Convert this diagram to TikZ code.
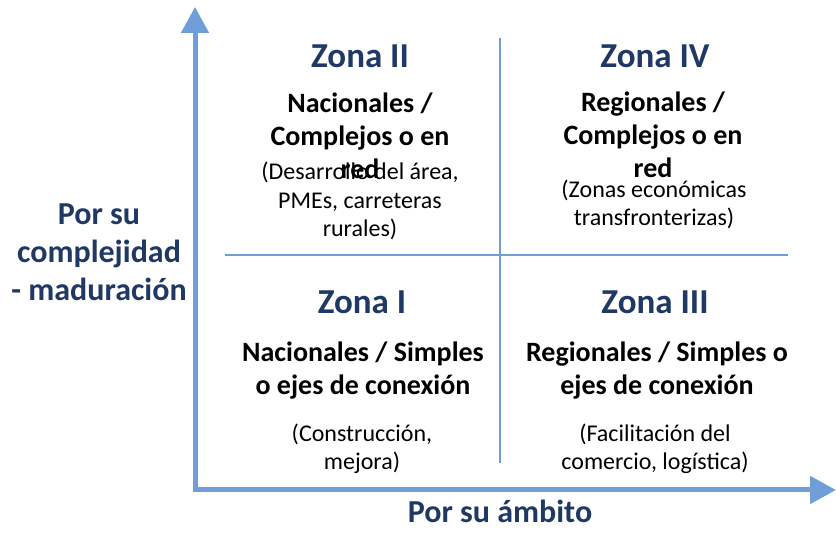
\documentclass[tikz,border=0pt]{standalone}
\usepackage{fontspec}
\setmainfont{Carlito}
\usetikzlibrary{arrows.meta}
\definecolor{axisblue}{RGB}{112,158,216}
\definecolor{zonenavy}{HTML}{1F3864}

\begin{document}
\begin{tikzpicture}[x=1pt, y=1pt,
    zonetitle/.style={anchor=base, inner sep=0pt, text=zonenavy, font=\fontsize{35}{40}\selectfont\bfseries},
    zonetype/.style={anchor=base, inner sep=0pt, align=center, font=\fontsize{28}{33}\selectfont\bfseries},
    zonenote/.style={anchor=base, inner sep=0pt, align=center, font=\fontsize{24}{28.5}\selectfont},
    axislabel/.style={anchor=base, inner sep=0pt, align=center, text=zonenavy, font=\fontsize{32}{38}\selectfont\bfseries},
    axisline/.style={draw=axisblue, line width=5pt, line join=miter,
      {Triangle[width=27pt, length=26pt]}-{Triangle[width=27pt, length=26pt]}},
    divider/.style={draw=axisblue, line width=1.8pt}]
      \useasboundingbox (0,0) rectangle (836,534);
      \coordinate (origin) at (195,44);
      \coordinate (ytip) at (195,527);
      \coordinate (xtip) at (836,44);
      \coordinate (vtop) at (500,496);
      \coordinate (vbottom) at (500,71);
      \coordinate (hleft) at (225,279);
      \coordinate (hright) at (788,279);
      \draw [divider] (vtop) -- (vbottom);
      \draw [divider] (hleft) -- (hright);
      \draw [axisline] (ytip) -- (origin) -- (xtip);
      % titles
      \node [zonetitle] (ztwo) at (360,466) {Zona II};
      \node [zonetitle] (zfour) at (655,466) {Zona IV};
      \node [zonetitle] (zone) at (362,220) {Zona I};
      \node [zonetitle] (zthree) at (655,220) {Zona III};
      % the node base is the last line
      \node [zonetype] (ztwotype) at (360,355) {Nacionales /\\Complejos o en\\red};
      \node [zonetype] (zfourtype) at (653,356) {Regionales /\\Complejos o en\\red};
      \node [zonetype] (zonetype) at (363,139) {Nacionales / Simples\\o ejes de conexión};
      \node [zonetype] (zthreetype) at (657,139) {Regionales / Simples o\\ejes de conexión};
      \node [zonenote] (ztwonote) at (360,297) {(Desarrollo del área,\\PMEs, carreteras\\rurales)};
      \node [zonenote] (zfournote) at (654,308) {(Zonas económicas\\transfronterizas)};
      \node [zonenote] (zonenote) at (362,64) {(Construcción,\\mejora)};
      \node [zonenote] (zthreenote) at (655,64) {(Facilitación del\\comercio, logística)};
      % axes
      \node [axislabel] (ylabel) at (99,233) {Por su\\complejidad\\- maduración};
      \node [axislabel] (xlabel) at (500,11) {Por su ámbito};
    \end{tikzpicture}
\end{document}
